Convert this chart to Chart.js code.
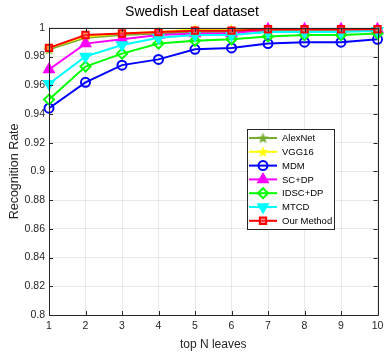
<!DOCTYPE html>
<html>
<head>
<meta charset="utf-8">
<script src="https://cdn.jsdelivr.net/npm/chart.js@4"></script>
<style>
html, body { margin: 0; padding: 0; background: #fff; }
#wrap { width: 385px; height: 352px; }
</style>
</head>
<body>
<div id="wrap"><canvas id="myChart" width="385" height="352"></canvas></div>
<script>
// values
const topN = [1, 2, 3, 4, 5, 6, 7, 8, 9, 10]
const yTicks = [0.8, 0.82, 0.84, 0.86, 0.88, 0.9, 0.92, 0.94, 0.96, 0.98, 1]
const seriesNames = ['AlexNet', 'VGG16', 'MDM', 'SC+DP', 'IDSC+DP', 'MTCD', 'Our Method']
const alexNet = [0.985, 0.993, 0.995, 0.996, 0.997, 0.997, 0.998, 0.998, 0.998, 0.998]
const vgg16 = [0.986, 0.994, 0.996, 0.997, 0.999, 0.999, 0.999, 0.999, 0.999, 0.999]
const mdm = [0.944, 0.962, 0.974, 0.978, 0.985, 0.986, 0.989, 0.990, 0.990, 0.992]
const scDp = [0.971, 0.989, 0.992, 0.995, 0.996, 0.996, 0.999, 0.999, 0.999, 0.999]
const idscDp = [0.950, 0.973, 0.982, 0.989, 0.991, 0.992, 0.994, 0.995, 0.995, 0.996]
const mtcd = [0.961, 0.980, 0.988, 0.993, 0.995, 0.995, 0.997, 0.997, 0.997, 0.998]
const ourMethod = [0.986, 0.995, 0.996, 0.997, 0.998, 0.998, 0.999, 0.999, 0.999, 0.999]

const FONT = "'Liberation Sans', Arial, sans-serif"
const TXT = '#262626'

// filled five point star, like matlab 'p'
function starCanvas(color, size) {
    const c = document.createElement('canvas')
    c.width = size; c.height = size
    const g = c.getContext('2d')
    const r = size / 2 - 0.5, ri = r * 0.42, cx = size / 2, cy = size / 2 + 0.5
    g.beginPath()
    for (let i = 0; i < 10; i++) {
        const a = -Math.PI / 2 + i * Math.PI / 5
        const rr = i % 2 === 0 ? r : ri
        g.lineTo(cx + rr * Math.cos(a), cy + rr * Math.sin(a))
    }
    g.closePath()
    g.fillStyle = color
    g.fill()
    return c
}

const styles = [
    { color: '#77AC30', point: starCanvas('#77AC30', 13), fill: '#77AC30', rot: 0, r: 5 },
    { color: '#FFFF00', point: starCanvas('#FFFF00', 13), fill: '#FFFF00', rot: 0, r: 5 },
    { color: '#0000FF', point: 'circle', fill: 'rgba(0,0,0,0)', rot: 0, r: 4.5 },
    { color: '#FF00FF', point: 'triangle', fill: '#FF00FF', rot: 0, r: 5.5 },
    { color: '#00FF00', point: 'rectRot', fill: 'rgba(0,0,0,0)', rot: 0, r: 5 },
    { color: '#00FFFF', point: 'triangle', fill: '#00FFFF', rot: 180, r: 5.5 },
    { color: '#FF0000', point: 'rect', fill: 'rgba(255,80,80,0.6)', rot: 0, r: 4.5 }
]
const allSeries = [alexNet, vgg16, mdm, scDp, idscDp, mtcd, ourMethod]

const datasets = allSeries.map((vals, i) => {
    const s = styles[i]
    return {
        label: seriesNames[i],
        data: vals,
        borderColor: s.color,
        backgroundColor: s.fill,
        borderWidth: 2,
        pointStyle: s.point,
        pointRotation: s.rot,
        pointRadius: s.r,
        pointBorderWidth: 2,
        pointBorderColor: s.color,
        pointBackgroundColor: s.fill,
        tension: 0,
        clip: false,
        order: 10 - i
    }
})

// matlab style box, inward ticks and the legend inside the axes
const boxPlugin = {
    id: 'box',
    afterDraw(chart) {
        const ctx = chart.ctx
        const a = chart.chartArea
        const xs = chart.scales.x, ys = chart.scales.y
        ctx.save()
        ctx.strokeStyle = TXT
        ctx.lineWidth = 1
        ctx.beginPath()
        ctx.rect(Math.round(a.left) + 0.5, Math.round(a.top) + 0.5, Math.round(a.right - a.left), Math.round(a.bottom - a.top))
        ctx.stroke()
        ctx.beginPath()
        topN.forEach((v, i) => {
            const px = Math.round(xs.getPixelForValue(i)) + 0.5
            ctx.moveTo(px, a.bottom); ctx.lineTo(px, a.bottom - 4)
            ctx.moveTo(px, a.top); ctx.lineTo(px, a.top + 4)
        })
        yTicks.forEach(v => {
            const py = Math.round(ys.getPixelForValue(v)) + 0.5
            ctx.moveTo(a.left, py); ctx.lineTo(a.left + 4, py)
            ctx.moveTo(a.right, py); ctx.lineTo(a.right - 4, py)
        })
        ctx.stroke()

        // legend
        const lx = 247, ly = 129, lw = 87, lh = 100
        ctx.fillStyle = '#fff'
        ctx.fillRect(lx, ly, lw, lh)
        ctx.strokeStyle = '#262626'
        ctx.strokeRect(lx + 0.5, ly + 0.5, lw, lh)
        ctx.font = '9.5px ' + FONT
        ctx.textBaseline = 'middle'
        ctx.textAlign = 'left'
        chart.data.datasets.forEach((d, i) => {
            const y = 138 + i * 13.8
            ctx.strokeStyle = d.borderColor
            ctx.lineWidth = 2
            ctx.beginPath()
            ctx.moveTo(lx + 2, y); ctx.lineTo(lx + 30, y)
            ctx.stroke()
            ctx.fillStyle = d.pointBackgroundColor
            ctx.strokeStyle = d.pointBorderColor
            Chart.helpers.drawPoint(ctx, {
                pointStyle: d.pointStyle, rotation: d.pointRotation,
                radius: d.pointRadius, borderWidth: 2
            }, lx + 16, y)
            ctx.fillStyle = '#000'
            ctx.fillText(d.label, lx + 35, y + 0.5)
        })
        ctx.restore()
    }
}

const config = {
    type: 'line',
    data: { labels: topN, datasets: datasets },
    options: {
        responsive: false,
        animation: false,
        layout: { padding: { left: 0, right: 1, top: 0, bottom: 0 } },
        plugins: {
            legend: { display: false },
            tooltip: { enabled: false },
            title: {
                display: true,
                text: 'Swedish Leaf dataset',
                color: '#000',
                font: { family: FONT, size: 14, weight: 'normal' },
                padding: { top: 4, bottom: 7 }
            }
        },
        scales: {
            x: {
                offset: false,
                grid: { color: 'rgba(38,38,38,0.1)', drawTicks: false },
                border: { display: false },
                ticks: { color: TXT, font: { family: FONT, size: 10.5 }, padding: 5, maxRotation: 0 },
                title: { display: true, text: 'top N leaves', color: TXT, font: { family: FONT, size: 12 }, padding: { top: 2, bottom: 0 } },
                afterFit: (s) => { s.height = 37; s.paddingRight = 0 }
            },
            y: {
                min: 0.8,
                max: 1,
                grid: { color: 'rgba(38,38,38,0.1)', drawTicks: false },
                border: { display: false },
                afterBuildTicks: (s) => { s.ticks = yTicks.map(v => ({ value: v })) },
                ticks: {
                    color: TXT, font: { family: FONT, size: 10.5 }, padding: 4,
                    callback: (v) => String(parseFloat(v.toFixed(2)))
                },
                title: { display: true, text: 'Recognition Rate', color: TXT, font: { family: FONT, size: 12.5 }, padding: { top: 7, bottom: 0 } },
                afterFit: (s) => { s.width = 49 }
            }
        }
    },
    plugins: [boxPlugin]
}

const myChart = new Chart(document.getElementById('myChart'), config)
</script>
</body>
</html>
